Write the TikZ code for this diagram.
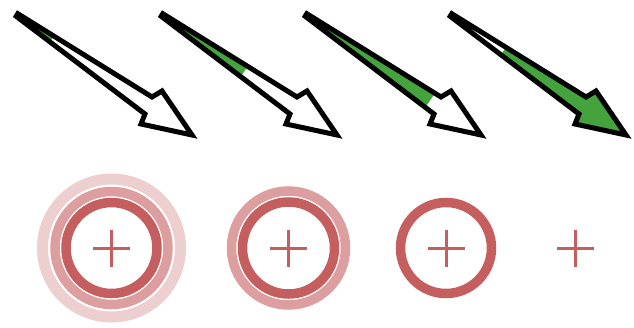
\documentclass[tikz,border=0pt]{standalone}
\usetikzlibrary{calc}
\definecolor{arrowgreen}{RGB}{68,163,60}
\definecolor{targetred}{RGB}{197,94,94}
\tikzset{
  arrowline/.style={draw=black, line width=5pt, line join=miter, miter limit=3},
  greenfill/.style={fill=arrowgreen},
  ringdark/.style={draw=targetred, line width=9.5pt},
  ringmid/.style={draw=targetred!60, line width=9.5pt},
  ringlight/.style={draw=targetred!30, line width=11pt},
  plusline/.style={draw=targetred, line width=3pt},
}
\begin{document}
\begin{tikzpicture}[x=1pt,y=-1pt]
\useasboundingbox (0,0) rectangle (634,327);
% arrows
\foreach \dx/\t/\n in {0/0.2/1, 145/0.47/2, 289/0.71/3, 434/1.3/4}{
  \begin{scope}[xshift=\dx]
    \coordinate (T\n) at (17.8,13.7);
    \coordinate (U\n) at (16.2,16.3);
    \coordinate (M\n) at (17,15);
    \coordinate (A\n) at (152,97);
    \coordinate (B\n) at (162,91);
    \coordinate (C\n) at (192,135);
    \coordinate (D\n) at (141,124);
    \coordinate (E\n) at (145,114);
    \coordinate (P\n) at ($(M\n)!\t!(C\n)$);
    \coordinate (Q\n) at ($(P\n)!80pt!90:(M\n)$);
    \coordinate (R\n) at ($(P\n)!80pt!-90:(M\n)$);
    \begin{scope}
      \clip (T\n) -- (A\n) -- (B\n) -- (C\n) -- (D\n) -- (E\n) -- (U\n) -- cycle;
      \fill[greenfill] (Q\n) -- (R\n) -- ($(R\n)+(M\n)-(C\n)$) -- ($(Q\n)+(M\n)-(C\n)$) -- cycle;
    \end{scope}
    \draw[arrowline] (T\n) -- (A\n) -- (B\n) -- (C\n) -- (D\n) -- (E\n) -- (U\n) -- cycle;
  \end{scope}
}
% targets
\coordinate (t1) at (111.5,248);
\coordinate (t2) at (288.5,248);
\coordinate (t3) at (446,248);
\coordinate (t4) at (575.3,248);
\draw[ringlight] (t1) circle[radius=69pt];
\draw[ringmid] (t1) circle[radius=56.5pt];
\draw[ringdark] (t1) circle[radius=45.5pt];
\draw[ringmid] (t2) circle[radius=57pt];
\draw[ringdark] (t2) circle[radius=46pt];
\draw[ringdark] (t3) circle[radius=45.5pt];
\foreach \c in {t1,t2,t3,t4}{
  \draw[plusline] ($(\c)+(-18.5,0)$) -- ($(\c)+(18.5,0)$);
  \draw[plusline] ($(\c)+(0,-18.5)$) -- ($(\c)+(0,18.5)$);
}
\end{tikzpicture}
\end{document}
